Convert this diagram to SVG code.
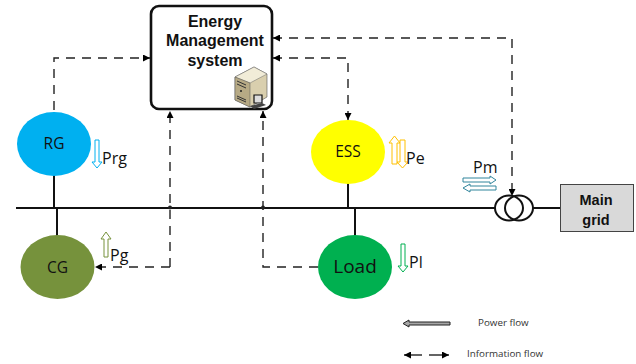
<svg xmlns="http://www.w3.org/2000/svg" width="636" height="364" viewBox="0 0 636 364">
<style>
text{font-family:"Open Sans","Noto Sans","Liberation Sans",sans-serif;fill:#111}
.lbl{font-size:15.500px;text-anchor:middle}
.b{font-family:"Liberation Sans",Arial,sans-serif;font-weight:700;font-size:16px;text-anchor:middle}
.side{font-size:16px}
.sm{font-size:9.800px;fill:#333}
.solid{fill:none;stroke:#111;stroke-width:2}
.dash{fill:none;stroke:#222;stroke-width:1.4;stroke-dasharray:9 7}
</style>
<defs>
<marker id="ah" viewBox="0 0 10 10" refX="10" refY="5" markerWidth="9" markerHeight="7" markerUnits="userSpaceOnUse" orient="auto-start-reverse"><path d="M0 0L10 5L0 10Z" fill="#000"/></marker>
</defs>
<rect width="636" height="364" fill="#fff"/>
<g id="connectors">
<path class="solid" d="M16 208H495"/>
<path class="solid" d="M54 175V208"/>
<path class="solid" d="M57 208V236"/>
<path class="solid" d="M348 183V208"/>
<path class="solid" d="M355 208V236"/>
<path class="solid" d="M533 208H560"/>
<circle cx="170" cy="207.500" r="2" fill="#222"/>
<circle cx="263" cy="207.500" r="2" fill="#222"/>
<path class="dash" marker-end="url(#ah)" d="M54 110V58H150"/>
<path class="dash" marker-end="url(#ah)" d="M170 267V111"/>
<path class="dash" marker-end="url(#ah)" d="M170 267H95"/>
<path class="dash" marker-end="url(#ah)" d="M318 267H263V111"/>
<path class="dash" marker-start="url(#ah)" marker-end="url(#ah)" d="M273 38H512V196"/>
<path class="dash" marker-start="url(#ah)" marker-end="url(#ah)" d="M273 58H348V120"/>
</g>
<g id="ems">
<rect x="151" y="6" width="121" height="103" rx="8" fill="#fff" stroke="#111" stroke-width="2.600"/>
<text class="b" x="215" y="27">Energy</text>
<text class="b" x="215" y="46">Management</text>
<text class="b" x="215" y="66">system</text>
<g id="server">
<path d="M235 77L254 67L267 74L267 97L250 107L235 100Z" fill="#d9cfae" stroke="#555" stroke-width=".6"/>
<path d="M235 77L254 67L267 74L250 83Z" fill="#f1ecd8" stroke="#666" stroke-width=".5"/>
<path d="M235 77L250 83V107L235 100Z" fill="#b7aa85" stroke="#555" stroke-width=".5"/>
<path d="M237 81L246 85M237 84L246 88M237 96L246 100M237 98L246 102" stroke="#333" stroke-width="1"/>
<circle cx="241" cy="91" r="1" fill="#222"/>
<path d="M254 95L262 95V103L254 103Z" fill="#ddd" stroke="#111" stroke-width="1.200"/>
<path d="M250 106L262 103L266 105L254 109Z" fill="#444"/>
</g>
</g>
<g id="rg"><ellipse cx="54" cy="144" rx="37" ry="32" fill="#00b0f0"/><text class="lbl" x="54" y="149">RG</text></g>
<g id="cg"><ellipse cx="57.500" cy="267" rx="37" ry="32" fill="#76923c"/><text class="lbl" x="57.500" y="273">CG</text></g>
<g id="ess"><ellipse cx="348" cy="152" rx="37" ry="32" fill="#ffff00"/><text class="lbl" x="348" y="157">ESS</text></g>
<g id="load"><ellipse cx="355" cy="267" rx="37" ry="32" fill="#00b050"/><text class="lbl" x="355" y="273" style="font-size:19px">Load</text></g>
<g id="transformer" fill="none" stroke="#111" stroke-width="2">
<ellipse cx="509" cy="208" rx="14" ry="12.500"/>
<ellipse cx="519" cy="208" rx="14" ry="12.500"/>
</g>
<g id="main-grid"><rect x="560.500" y="184.500" width="73" height="47" fill="#d9d9d9" stroke="#444"/>
<text class="b" x="596" y="205" style="font-size:14.500px">Main</text><text class="b" x="596" y="225" style="font-size:14.500px">grid</text></g>
<g id="flows" fill="#fff" stroke-width="1">
<path d="M95 140H99V162H102L97 168L92 162H95Z" stroke="#00b0f0"/>
<text class="side" x="102" y="164">Prg</text>
<path d="M104 257H108V239H111L106 232L101 239H104Z" stroke="#76923c"/>
<text class="side" x="110" y="261">Pg</text>
<path d="M392 164H397V143H400L394.500 136L389 143H392Z" stroke="#ffc000"/>
<path d="M400 140H405V162H408L402.500 168L397 162H400Z" stroke="#ffc000"/>
<text class="side" x="406" y="164">Pe</text>
<path d="M401 244H405V266H408L403 272L398 266H401Z" stroke="#00b050"/>
<text class="side" x="409" y="268">Pl</text>
<text class="side" x="473" y="173">Pm</text>
<path d="M463 178H490V176L496 180L490 184V182H463Z" stroke="#31859c"/>
<path d="M496 186H470V184L463 188L470 192V190H496Z" stroke="#31859c"/>
</g>
<g id="legend">
<path d="M450 322H409V320L403 323.500L409 327V325H450Z" fill="#a6a6a6" stroke="#222" stroke-width="1"/>
<text class="sm" x="478" y="326">Power flow</text>
<path d="M404 355H422" stroke="#222" stroke-width="1.400" marker-start="url(#ah)"/>
<path d="M429 355H449" stroke="#222" stroke-width="1.400" marker-end="url(#ah)"/>
<text class="sm" x="467" y="357">Information flow</text>
</g>
</svg>
